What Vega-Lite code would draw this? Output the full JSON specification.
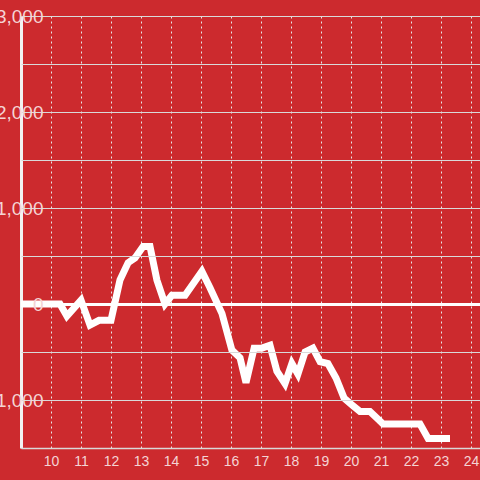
{
  "$schema": "https://vega.github.io/schema/vega-lite/v6.json",
  "width": 459,
  "height": 432,
  "autosize": "none",
  "padding": {"left": 21, "top": 16, "right": 0, "bottom": 32},
  "background": "#cc2a2e",
  "config": {
    "view": {"stroke": null},
    "axis": {"labelFont": "Liberation Sans", "labelFontSize": 14, "labelColor": "#f4d4d5", "ticks": false, "title": null}
  },
  "data": {
    "values": [
      {"hour": 9.0, "value": 0},
      {"hour": 10.3, "value": 0},
      {"hour": 10.53, "value": -125},
      {"hour": 11.0, "value": 40},
      {"hour": 11.3, "value": -220},
      {"hour": 11.6, "value": -170},
      {"hour": 12.0, "value": -170},
      {"hour": 12.3, "value": 250},
      {"hour": 12.57, "value": 430},
      {"hour": 12.8, "value": 480},
      {"hour": 13.07, "value": 600},
      {"hour": 13.3, "value": 600},
      {"hour": 13.53, "value": 250},
      {"hour": 13.8, "value": 0},
      {"hour": 14.03, "value": 90},
      {"hour": 14.47, "value": 90},
      {"hour": 15.03, "value": 340},
      {"hour": 15.3, "value": 170},
      {"hour": 15.7, "value": -100},
      {"hour": 16.03, "value": -480},
      {"hour": 16.3, "value": -560},
      {"hour": 16.5, "value": -820},
      {"hour": 16.77, "value": -460},
      {"hour": 17.03, "value": -460},
      {"hour": 17.3, "value": -430},
      {"hour": 17.53, "value": -700},
      {"hour": 17.8, "value": -830},
      {"hour": 18.03, "value": -620},
      {"hour": 18.23, "value": -730},
      {"hour": 18.47, "value": -500},
      {"hour": 18.73, "value": -460},
      {"hour": 18.97, "value": -600},
      {"hour": 19.23, "value": -620},
      {"hour": 19.5, "value": -770},
      {"hour": 19.77, "value": -980},
      {"hour": 20.03, "value": -1050},
      {"hour": 20.3, "value": -1120},
      {"hour": 20.63, "value": -1120},
      {"hour": 20.87, "value": -1190},
      {"hour": 21.07, "value": -1250},
      {"hour": 22.3, "value": -1250},
      {"hour": 22.57, "value": -1400},
      {"hour": 23.3, "value": -1400}
    ]
  },
  "mark": {"type": "line", "color": "#ffffff", "strokeWidth": 7, "strokeJoin": "miter", "strokeCap": "butt"},
  "encoding": {
    "x": {
      "field": "hour", "type": "quantitative",
      "scale": {"domain": [9, 24.3], "nice": false, "zero": false},
      "axis": {
        "values": [9, 10, 11, 12, 13, 14, 15, 16, 17, 18, 19, 20, 21, 22, 23, 24],
        "labelExpr": "datum.value === 9 ? '' : datum.label",
        "grid": true,
        "gridDash": {"condition": {"test": "datum.value === 9", "value": []}, "value": [2, 3]},
        "gridColor": {"condition": {"test": "datum.value === 9", "value": "#f2f2f2"}, "value": "#e6e6e6"},
        "gridWidth": {"condition": {"test": "datum.value === 9", "value": 3}, "value": 1},
        "domainColor": "#d8d8d8", "domainWidth": 1.5,
        "labelPadding": 6, "format": "d", "labelFontSize": 14
      }
    },
    "y": {
      "field": "value", "type": "quantitative",
      "scale": {"domain": [-1500, 3000], "nice": false},
      "axis": {
        "values": [-1500, -1000, -500, 0, 500, 1000, 1500, 2000, 2500, 3000],
        "labelExpr": "datum.value % 1000 === 0 ? format(datum.value, ',') : ''",
        "grid": true,
        "gridColor": {"condition": {"test": "datum.value === 0", "value": "#ffffff"}, "value": "#d9d9d9"},
        "gridWidth": {"condition": {"test": "datum.value === 0", "value": 3}, "value": 1},
        "domain": false, "zindex": 1,
        "labelPadding": -22, "labelFontSize": 19, "labelColor": "#f4d4d5"
      }
    }
  }
}
